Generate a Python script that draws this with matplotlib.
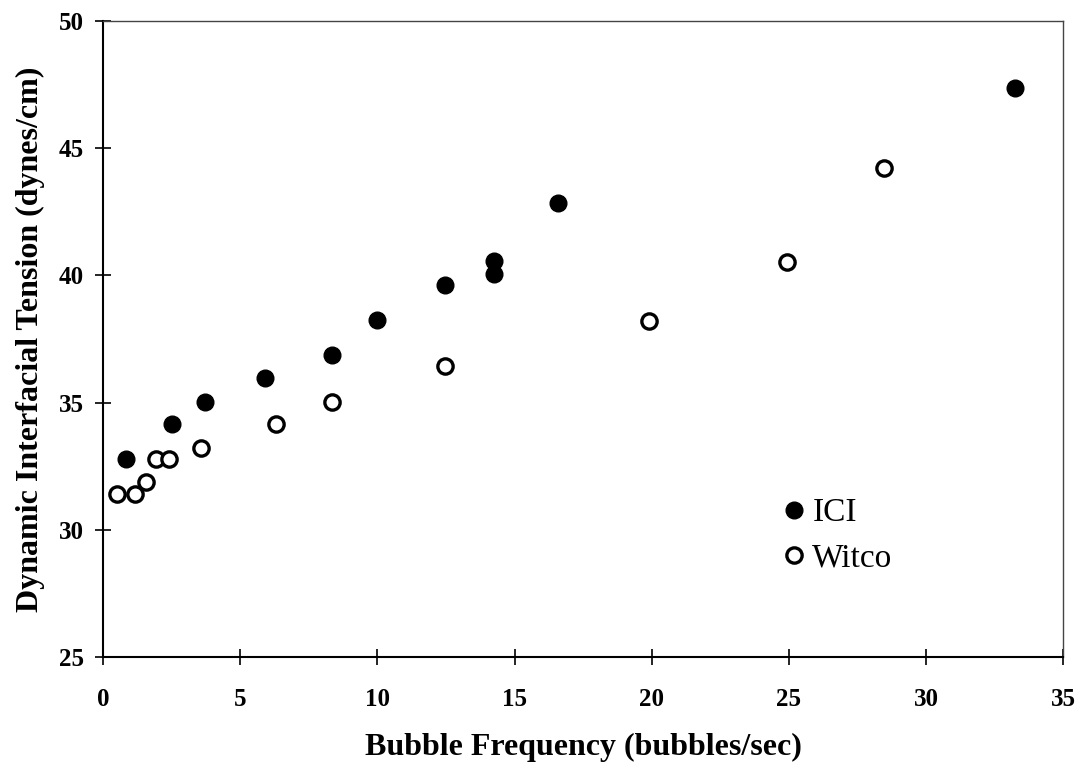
import matplotlib
matplotlib.use("Agg")
import matplotlib.pyplot as plt

ici_x = [0.85, 2.52, 3.71, 5.92, 8.35, 10.0, 12.47, 14.24, 14.24, 16.6, 33.25]
ici_y = [32.79, 34.16, 35.05, 35.97, 36.88, 38.26, 39.63, 40.58, 40.05, 42.84, 47.36]
witco_x = [0.51, 1.18, 1.55, 1.95, 2.4, 3.56, 6.29, 8.35, 12.47, 19.91, 24.92, 28.47]
witco_y = [31.43, 31.43, 31.89, 32.79, 32.79, 33.24, 34.16, 35.05, 36.43, 38.23, 40.52, 44.23]
x_ticks = [0, 5, 10, 15, 20, 25, 30, 35]
y_ticks = [25, 30, 35, 40, 45, 50]

plt.rcParams['font.family'] = ['Liberation Serif', 'DejaVu Serif']

fig = plt.figure(figsize=(10.84, 7.69), dpi=100)
ax = fig.add_axes([0.095, 0.145, 0.886, 0.828])

ax.plot(ici_x, ici_y, 'o', color='black', markersize=12, label='ICI', linestyle='none')
ax.plot(witco_x, witco_y, 'o', markerfacecolor='white', markeredgecolor='black',
        markeredgewidth=2.4, markersize=11, label='Witco', linestyle='none')

ax.set_xlim(0, 35)
ax.set_ylim(25, 50)
ax.set_xticks(x_ticks)
ax.set_yticks(y_ticks)
ax.tick_params(direction='inout', length=12, width=1.2, labelsize=18)
ax.tick_params(axis='x', pad=16)
ax.tick_params(axis='y', pad=8)
for lab in ax.get_xticklabels() + ax.get_yticklabels():
    lab.set_fontweight('bold')

for s in ['left', 'bottom']:
    ax.spines[s].set_linewidth(1.5)
for s in ['top', 'right']:
    ax.spines[s].set_linewidth(1.0)
    ax.spines[s].set_color('#444444')

ax.set_xlabel('Bubble Frequency (bubbles/sec)', fontsize=23, fontweight='bold', labelpad=16)
ax.set_ylabel('Dynamic Interfacial Tension (dynes/cm)', fontsize=23, fontweight='bold', labelpad=10)

leg = ax.legend(loc='upper left', bbox_to_anchor=(0.709, 0.251), frameon=False,
                fontsize=24, handlelength=0.6, handletextpad=0.25, borderpad=0,
                borderaxespad=0, labelspacing=0.45)

fig.savefig('out.png', dpi=100)
